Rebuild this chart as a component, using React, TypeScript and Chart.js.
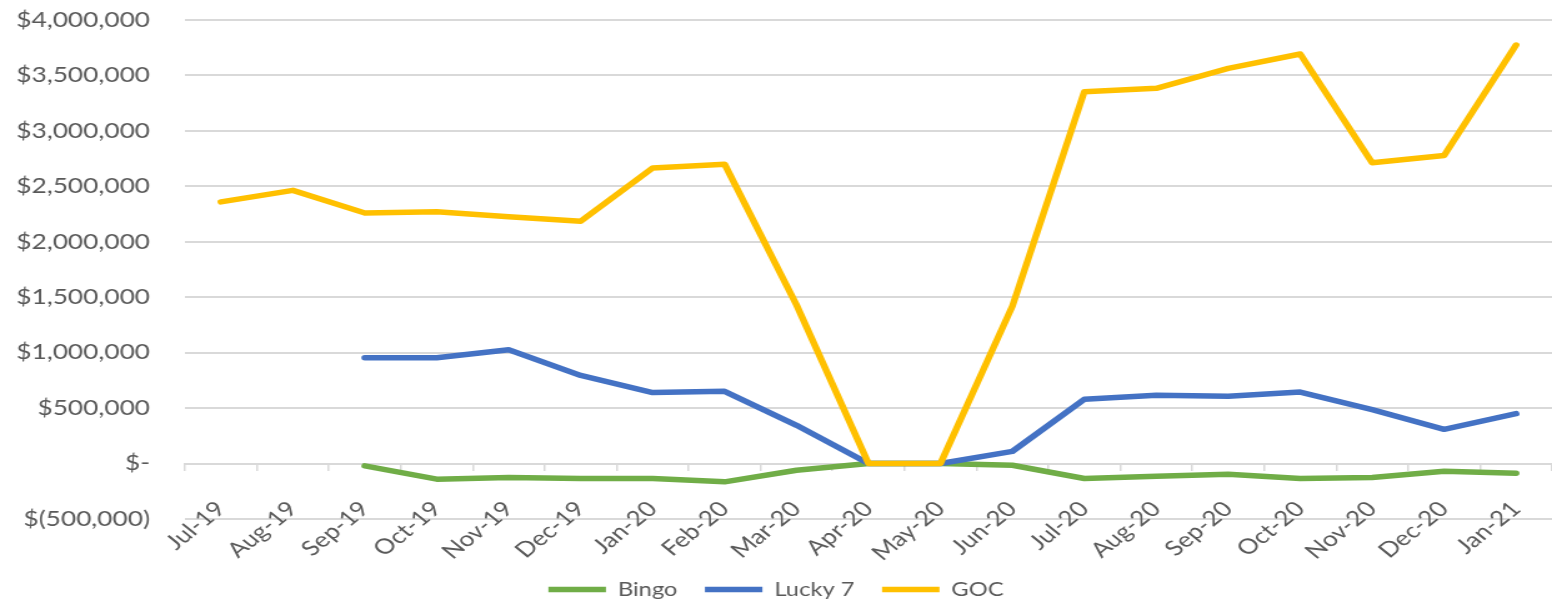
import React, { useEffect, useRef } from 'react';
import { Chart, registerables } from 'chart.js';

Chart.register(...registerables);

// ---- data ----
const categories = [
  'Jul-19', 'Aug-19', 'Sep-19', 'Oct-19', 'Nov-19', 'Dec-19', 'Jan-20', 'Feb-20', 'Mar-20', 'Apr-20',
  'May-20', 'Jun-20', 'Jul-20', 'Aug-20', 'Sep-20', 'Oct-20', 'Nov-20', 'Dec-20', 'Jan-21',
];
const bingo = [
  null, null, -21000, -141000, -126000, -135000, -135000, -165000, -60000, 0,
  0, -15000, -135000, -114000, -96000, -135000, -126000, -69000, -87000,
];
const lucky7 = [
  null, null, 955000, 955000, 1027000, 795000, 640000, 651000, 345000, 0,
  0, 110000, 580000, 616000, 607000, 645000, 486000, 309000, 450000,
];
const goc = [
  2360000, 2464000, 2260000, 2270000, 2225000, 2185000, 2665000, 2700000, 1430000, 0,
  0, 1420000, 3354000, 3384000, 3564000, 3693000, 2712000, 2778000, 3774000,
];
const yMin = -500000;
const yMax = 4000000;
const yStep = 500000;

// ---- layout / style ----
const CSS_W = 1552;
const CSS_H = 605;
const STRETCH = 1.25;
const W = Math.round(CSS_W / STRETCH);
const FONT = 'Lato';
const TEXT = '#595959';
const GRID = '#d9d9d9';

const fmt = (v: number) => {
  if (v === 0) return '$-';
  if (v < 0) return '$(' + Math.abs(v).toLocaleString('en-US') + ')';
  return '$' + v.toLocaleString('en-US');
};

export default function App() {
  const ref = useRef<HTMLCanvasElement | null>(null);
  useEffect(() => {
    document.body.style.margin = '0';
    const canvas = ref.current!;
    const chart = new Chart(canvas, {
      type: 'line',
      data: {
        labels: categories,
        datasets: [
          { label: 'Bingo', data: bingo, borderColor: '#70AD47', backgroundColor: '#70AD47', order: 3 },
          { label: 'Lucky 7', data: lucky7, borderColor: '#4472C4', backgroundColor: '#4472C4', order: 2 },
          { label: 'GOC', data: goc, borderColor: '#FFC000', backgroundColor: '#FFC000', order: 1 },
        ].map((d) => ({
          ...d,
          borderWidth: 5.5,
          pointRadius: 0,
          pointHoverRadius: 0,
          tension: 0,
          spanGaps: false,
          borderCapStyle: 'round' as const,
          borderJoinStyle: 'round' as const,
          fill: false,
        })),
      },
      options: {
        responsive: false,
        animation: false,
        devicePixelRatio: 1,
        layout: { padding: { top: 20, left: 0, right: 0, bottom: -4 } },
        plugins: {
          tooltip: { enabled: false },
          legend: {
            position: 'bottom',
            title: {
              display: true,
              text: ' ',
              font: { family: FONT, size: 10, lineHeight: 1.2 },
              padding: { top: 27, bottom: 0 },
            },
            labels: {
              usePointStyle: true,
              pointStyle: 'line',
              pointStyleWidth: 46,
              padding: 22,
              color: TEXT,
              font: { family: FONT, size: 19 },
              sort: (a: any, b: any) => a.datasetIndex - b.datasetIndex,
            },
          },
        },
        scales: {
          x: {
            position: { y: 0 } as any,
            offset: true,
            grid: {
              display: true,
              drawOnChartArea: false,
              drawTicks: true,
              tickLength: 6,
              offset: true,
              color: GRID,
              lineWidth: 1.5,
            },
            border: { display: true, color: GRID, width: 2 },
            ticks: {
              autoSkip: false,
              minRotation: 45,
              maxRotation: 45,
              padding: 27,
              color: TEXT,
              font: { family: FONT, size: 21 },
            },
            afterFit: (s: any) => {
              s.height = 0;
              s.paddingLeft = 0;
              s.paddingRight = 0;
            },
          },
          y: {
            min: yMin,
            max: yMax,
            grid: { color: GRID, lineWidth: 2, drawTicks: false },
            border: { display: false },
            ticks: {
              stepSize: yStep,
              padding: 28,
              color: TEXT,
              font: { family: FONT, size: 21 },
              callback: (v: any) => fmt(Number(v)),
            },
            afterFit: (s: any) => {
              s.width = 148;
              s.paddingTop = 0;
              s.paddingBottom = 0;
            },
          },
        },
      },
    });
    return () => chart.destroy();
  }, []);
  return (
    <canvas
      ref={ref}
      width={W}
      height={CSS_H}
      style={{ width: CSS_W + 'px', height: CSS_H + 'px', display: 'block' }}
    />
  );
}
